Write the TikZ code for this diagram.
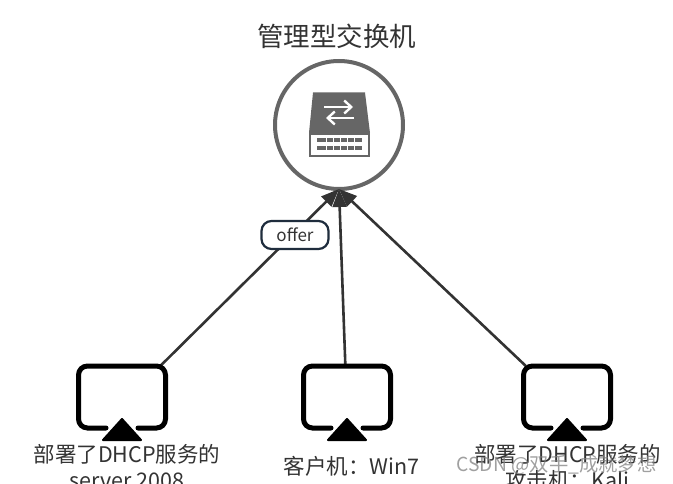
\documentclass[tikz,border=0pt]{standalone}
\usepackage{fontspec}
\setmainfont{Noto Sans CJK SC}
\usetikzlibrary{arrows.meta,calc}
\definecolor{ink}{HTML}{333333}
\definecolor{swgray}{HTML}{666666}
\definecolor{tagline}{HTML}{1F2D3D}
\tikzset{
  x=1pt,y=-1pt,
  screenbox/.style={minimum width=87pt,minimum height=62pt,inner sep=0pt,outer sep=0pt},
  screenline/.style={black,line width=5pt,line cap=round,rounded corners=9pt},
  link/.style={ink,line width=2.6pt,-{Triangle[length=18pt,width=14pt]}},
  lbl/.style={text=ink,font=\fontsize{21.5}{26}\selectfont,align=center,inner sep=0pt},
  tag/.style={draw=tagline,fill=white,line width=2.2pt,rounded corners=10pt,minimum width=67pt,minimum height=28pt,inner sep=0pt,text=ink,font=\fontsize{17}{18}\selectfont}
}
\newcommand{\screenat}[1]{%
  \draw[screenline] ($(#1.south)+(-16,0)$) -- (#1.south west) -- (#1.north west) -- (#1.north east) -- (#1.south east) -- ($(#1.south)+(16,0)$);
  \fill[black,line join=round,draw=black,line width=2pt] ($(#1.south)+(0,-9)$) -- ($(#1.south)+(19,12)$) -- ($(#1.south)+(-19,12)$) -- cycle;
}
\begin{document}
\begin{tikzpicture}
\useasboundingbox (0,0) rectangle (673,484);
\clip (0,0) rectangle (673,484);
\node[circle,draw=swgray,line width=4pt,minimum size=128pt,inner sep=0pt,outer sep=0pt] (sw) at (339,125) {};
\node[text=ink,font=\fontsize{26.5}{30}\selectfont,inner sep=0pt] (title) at (336.5,36) {管理型交换机};
% switch icon
\fill[swgray] (313,92.5) -- (365,92.5) -- (370,133) -- (309,133) -- cycle;
\draw[swgray,line width=2pt,fill=white] (310,134) rectangle (369,156);
\fill[swgray] (317,138) rectangle (362,142.5);
\fill[swgray] (317,146) rectangle (362,150.5);
\foreach \p in {326,333,340,347,354}{\draw[white,line width=.7pt] (\p,137) -- (\p,151);}
\draw[white,line width=2.4pt,-{Straight Barb[length=7pt,width=13pt]}] (324,107) -- (353,107);
\draw[white,line width=2.4pt,-{Straight Barb[length=7pt,width=13pt]}] (354,118) -- (326,118);
% screens
\node[screenbox] (s1) at (122,397) {};
\node[screenbox] (s2) at (347,397) {};
\node[screenbox] (s3) at (567,397) {};
\draw[link] (s1.39) -- (sw.south);
\draw[link] (s2.93) -- (sw.south);
\draw[link] (s3.143) -- (sw.south);
\screenat{s1}\screenat{s2}\screenat{s3}
\node[tag] (offer) at (295,235) {offer};
\node[lbl] (l1) at (127,467) {部署了DHCP服务的\\server 2008};
\node[lbl] (l2) at (351.5,466) {客户机：Win7};
\node[lbl] (l3) at (567.5,467) {部署了DHCP服务的\\攻击机：Kali};
\node[text=gray,opacity=.75,font=\fontsize{19.3}{20}\selectfont,inner sep=0pt] (wm) at (556.5,465) {CSDN @双手\_成就梦想};
\end{tikzpicture}
\end{document}
